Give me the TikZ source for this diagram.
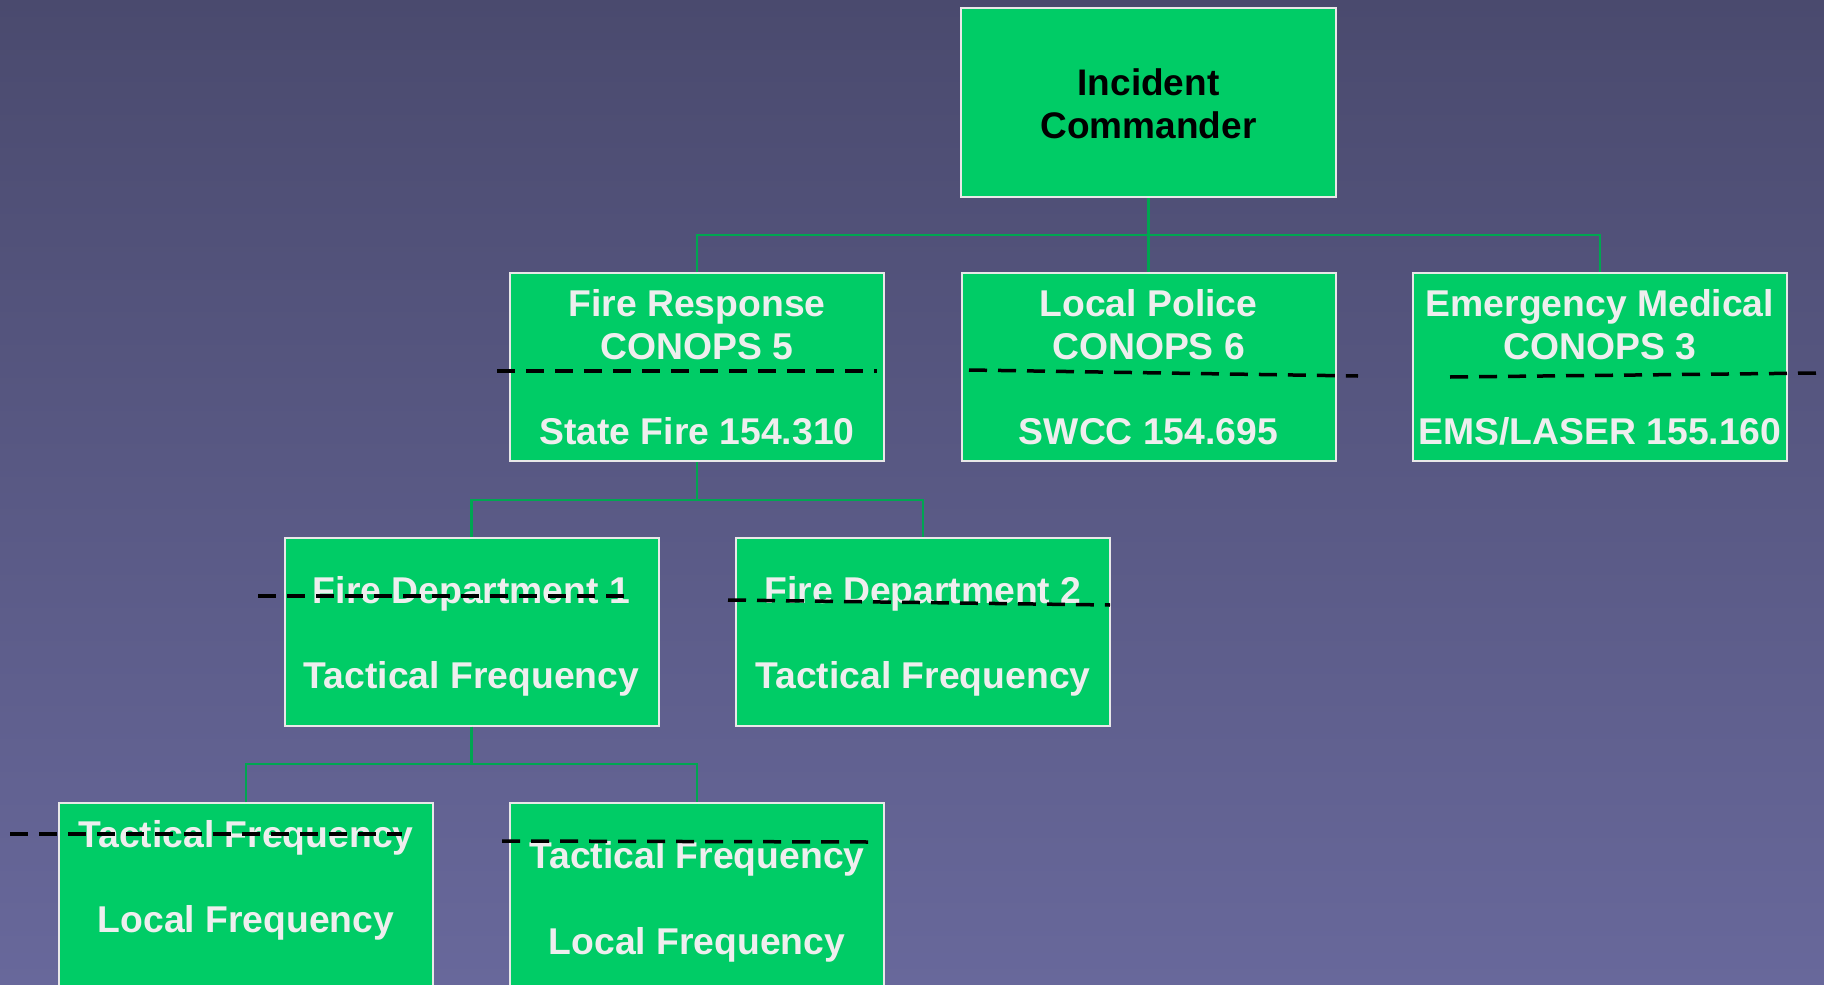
\documentclass[tikz,border=0pt]{standalone}
\usepackage{fontspec}
\setmainfont{Liberation Sans}
\definecolor{bgtop}{RGB}{74,74,110}
\definecolor{bgbot}{RGB}{104,104,155}
\definecolor{boxfill}{RGB}{0,204,102}
\definecolor{boxline}{RGB}{232,232,232}
\definecolor{connline}{RGB}{0,166,81}
\definecolor{lbltext}{RGB}{238,238,238}
\tikzset{
  box/.style={draw=boxline, fill=boxfill, line width=2pt, inner sep=0pt,
    minimum width=374pt, minimum height=188pt, rectangle},
  lbl/.style={text=lbltext, font=\fontsize{37.3}{44}\selectfont\bfseries, inner sep=0pt, anchor=base},
  toplbl/.style={lbl, text=black, font=\fontsize{37}{44}\selectfont\bfseries},
  conn/.style={draw=connline, line width=2.5pt},
  divider/.style={draw=black, line width=3.5pt, dash pattern=on 18pt off 11pt}
}
\begin{document}
\begin{tikzpicture}[x=1pt,y=-1pt]
\useasboundingbox (0,0) rectangle (1824,985);
\clip (0,0) rectangle (1824,985);
\shade[top color=bgtop, bottom color=bgbot] (0,0) rectangle (1824,985);

% bus levels for the tree connectors
\coordinate (bus1) at (0,235);
\coordinate (bus2) at (0,500);
\coordinate (bus3) at (0,764);

% boxes
\node[box, minimum width=375pt, minimum height=189pt] (ic) at (1148.5,102.5) {};
\node[box] (fr)  at (697,367) {};
\node[box] (lp)  at (1148.5,367) {};
\node[box] (ems) at (1600,367) {};
\node[box] (fd1) at (471.5,631.5) {};
\node[box] (fd2) at (923,631.5) {};
\node[box] (tf1) at (246,897) {};
\node[box] (tf2) at (697,897) {};

% connectors
\draw[conn] (ic.south) -- (lp.north);
\draw[conn] (fr.north) -- (fr.north |- bus1) -- (ems.north |- bus1) -- (ems.north);
\draw[conn] (fr.south) -- (fr.south |- bus2);
\draw[conn] (fd1.north) -- (fd1.north |- bus2) -- (fd2.north |- bus2) -- (fd2.north);
\draw[conn] (fd1.south) -- (fd1.south |- bus3);
\draw[conn] (tf1.north) -- (tf1.north |- bus3) -- (tf2.north |- bus3) -- (tf2.north);

% labels
\node[toplbl] (ic-a) at (1148.5,95) {Incident};
\node[toplbl] (ic-b) at (1148.5,138) {Commander};

\node[lbl] (fr-a) at (697,316) {Fire Response};
\node[lbl] (fr-b) at (697,359) {CONOPS 5};
\node[lbl] (fr-c) at (697,444) {State Fire 154.310};

\node[lbl] (lp-a) at (1148.5,316) {Local Police};
\node[lbl] (lp-b) at (1148.5,359) {CONOPS 6};
\node[lbl] (lp-c) at (1148.5,444) {SWCC 154.695};

\node[lbl] (ems-a) at (1600,316) {Emergency Medical};
\node[lbl] (ems-b) at (1600,359) {CONOPS 3};
\node[lbl] (ems-c) at (1600,444) {EMS/LASER 155.160};

\node[lbl] (fd1-a) at (471.5,603) {Fire Department 1};
\node[lbl] (fd1-b) at (471.5,688) {Tactical Frequency};
\node[lbl] (fd2-a) at (923,603) {Fire Department 2};
\node[lbl] (fd2-b) at (923,688) {Tactical Frequency};

\node[lbl] (tf1-a) at (246,847) {Tactical Frequency};
\node[lbl] (tf1-b) at (246,932) {Local Frequency};
\node[lbl] (tf2-a) at (697,868) {Tactical Frequency};
\node[lbl] (tf2-b) at (697,954) {Local Frequency};

% dashed dividers drawn over the boxes
\draw[divider] (497,371) -- (877,371);
\draw[divider] (969,370) -- (1358,376);
\draw[divider] (1450,377) -- (1820,373);
\draw[divider] (258,596) -- (625,596);
\draw[divider] (728,600) -- (1110,605);
\draw[divider] (10,834) -- (402,834);
\draw[divider] (502,841) -- (869,842);
\end{tikzpicture}
\end{document}
